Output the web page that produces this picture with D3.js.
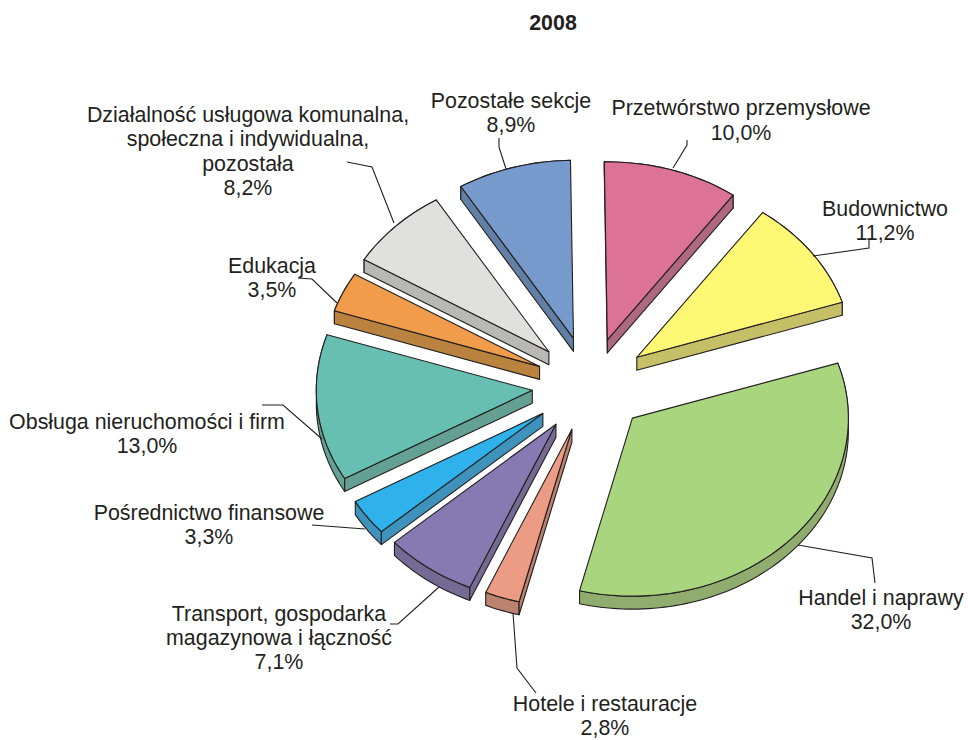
<!DOCTYPE html>
<html><head><meta charset="utf-8">
<script src="https://cdnjs.cloudflare.com/ajax/libs/d3/7.8.5/d3.min.js"></script>
<style>html,body{margin:0;padding:0;background:#fff}svg{display:block}text{font-family:"Liberation Sans",Arial,sans-serif;fill:#231f20}</style>
</head><body><svg id="c" width="968" height="740"></svg>
<script>
const title = "2008";
const categories = ["Przetwórstwo przemysłowe","Budownictwo","Handel i naprawy","Hotele i restauracje","Transport, gospodarka magazynowa i łączność","Pośrednictwo finansowe","Obsługa nieruchomości i firm","Edukacja","Działalność usługowa komunalna, społeczna i indywidualna, pozostała","Pozostałe sekcje"];
// Percentages as printed in the labels.
const values = [10.0,11.2,32.0,2.8,7.1,3.3,13.0,3.5,8.2,8.9];
// Wedge sizes as actually drawn in the picture (they differ slightly from the printed percentages).
const drawnShares = [10.1,10.1,33.9,2.6,6.9,3.3,13.3,3.6,7.6,8.5];
const topColors = ["#DC7396","#FFF875","#A9D57E","#EC9C84","#8779B1","#2FB2EC","#66BFB0","#F19C4A","#E0E0DF","#769ACB"];
const sideColors = ["#AE6880","#C5BF68","#90AC6E","#BB826F","#756A94","#3E92BB","#64A094","#B9823F","#B8B8B7","#627FA6"];
const labelLines = [["Przetwórstwo przemysłowe"],["Budownictwo"],["Handel i naprawy"],["Hotele i restauracje"],["Transport, gospodarka","magazynowa i łączność"],["Pośrednictwo finansowe"],["Obsługa nieruchomości i firm"],["Edukacja"],["Działalność usługowa komunalna,","społeczna i indywidualna,","pozostała"],["Pozostałe sekcje"]];
const labelCenterX = [741,885,881,605,279,209,147,272,248,511];
const labelTopBaseline = [115.4,216,605,711,620.5,520,429,273,122,108];
const lineStep = 24.4;
const leaders = [
 [[673,168],[687,145],[687,140]],
 [[813,256],[869,248],[869,240]],
 [[798,545],[872,558],[875,583]],
 [[513,613],[517,668],[536,693]],
 [[439,587],[398,624],[390,624]],
 [[365,529],[312,525]],
 [[322,439],[283,405],[262,405]],
 [[337,303],[312,279],[298,278]],
 [[394,223],[372,167],[347,162]],
 [[506,169],[499,147],[499,138]]
];
const explode=[58,58,58,56,58,58,58,55.5,58,59.5];
const cx=590, cy=385.5, rx=216, ry=178, depth=13, rotationDeg=-0.8;
const ink="#231f20", fmt=v=>v.toFixed(1).replace(".",",")+"%";
const rot=rotationDeg*Math.PI/180;
const svg=d3.select("#c");
const pie=d3.pie().sort(null).value(d=>d).startAngle(rot).endAngle(rot+2*Math.PI);
const arcs=pie(drawnShares);
const kx=ry/rx;
const sx=d3.scaleLinear().domain([-1,1]).range([-rx,rx]);
const sy=d3.scaleLinear().domain([-1,1]).range([-ry,ry]);
const line=d3.line();
const g=svg.selectAll("g.slice").data(arcs).join("g").attr("class","slice");
g.each(function(d,i){
  const mid=(d.startAngle+d.endAngle)/2;
  const ox=cx+explode[i]*Math.sin(mid), oy=cy-explode[i]*kx*Math.cos(mid);
  const pt=(a,z=0)=>[ox+sx(Math.sin(a)),oy+sy(-Math.cos(a))+z];
  const n=Math.max(8,Math.ceil((d.endAngle-d.startAngle)*40));
  const as=d3.range(n+1).map(k=>d.startAngle+(d.endAngle-d.startAngle)*k/n);
  const apex=[ox,oy], apexB=[ox,oy+depth];
  const sel=d3.select(this);
  const wall=p=>sel.append("path").attr("d",line(p)+"Z").attr("fill",sideColors[i]).attr("stroke",ink).attr("stroke-width",1.1).attr("stroke-linejoin","round");
  wall([...as.map(a=>pt(a)),...as.slice().reverse().map(a=>pt(a,depth))]);
  if(Math.sin(d.startAngle)<0) wall([apex,pt(d.startAngle),pt(d.startAngle,depth),apexB]);
  if(Math.sin(d.endAngle)>0) wall([apex,pt(d.endAngle),pt(d.endAngle,depth),apexB]);
  sel.append("path").attr("d",line([apex,...as.map(a=>pt(a))])+"Z").attr("fill",topColors[i]).attr("stroke",ink).attr("stroke-width",1.1).attr("stroke-linejoin","round");
});
svg.selectAll("path.leader").data(leaders).join("path").attr("class","leader").attr("d",d=>line(d)).attr("fill","none").attr("stroke",ink).attr("stroke-width",1.1);
categories.forEach((c,i)=>{
  const lines=[...labelLines[i],fmt(values[i])];
  const t=svg.append("text").attr("text-anchor","middle").attr("font-size",21.4);
  lines.forEach((s,k)=>t.append("tspan").attr("x",labelCenterX[i]).attr("y",labelTopBaseline[i]+k*lineStep).text(s));
});
svg.append("text").attr("x",553).attr("y",30).attr("text-anchor","middle").attr("font-size",21.4).attr("font-weight","bold").text(title);
</script></body></html>
